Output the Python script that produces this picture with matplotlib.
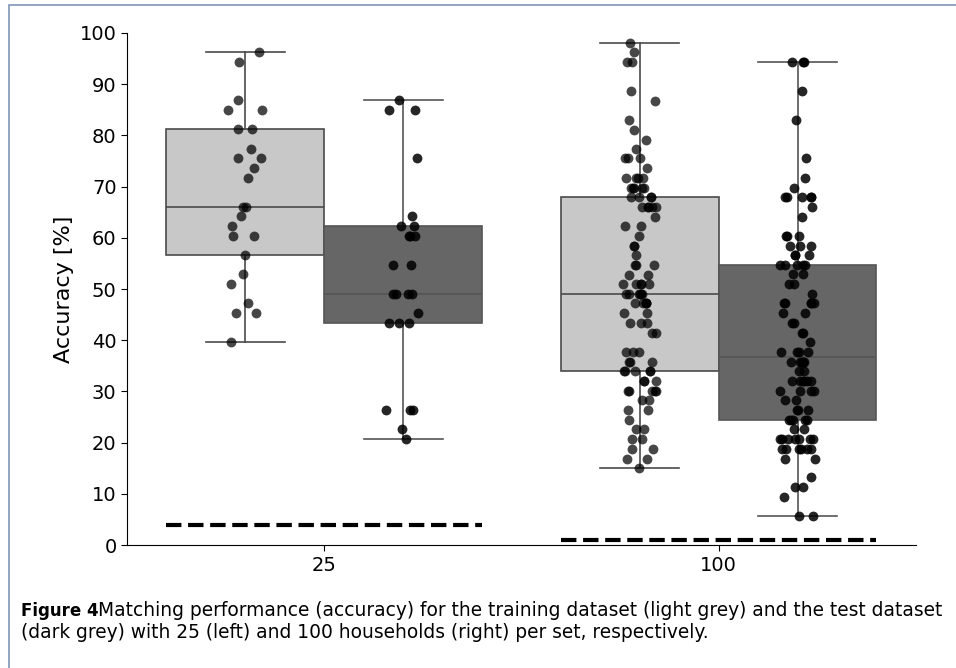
import numpy as np
import matplotlib
matplotlib.use("Agg")
import matplotlib.pyplot as plt
from matplotlib.patches import Rectangle

# group labels (households per set)
groups = ['25', '100']

# accuracies [%]
train_25 = [39.6, 45.3, 45.3, 47.2, 51.0, 52.9, 56.6, 60.4, 60.4, 62.3, 64.2, 66.1, 66.1,
            71.7, 73.7, 75.5, 75.5, 77.4, 81.2, 81.2, 85.0, 85.0, 86.9, 94.4, 96.2]
test_25 = [20.8, 22.7, 26.4, 26.4, 26.4, 43.4, 43.4, 43.4, 45.3, 49.0, 49.0, 49.0, 49.0,
           54.7, 54.7, 60.4, 60.4, 60.4, 62.3, 62.3, 64.2, 75.5, 85.0, 85.0, 86.9]

# 100 households: accuracy levels and how many households sit on each level
train_100_levels = [15.1, 16.9, 18.8, 20.7, 22.6, 24.5, 26.4, 28.3, 30.1, 32.0, 33.9, 35.8, 37.7,
                    41.5, 43.4, 45.3, 47.2, 49.0, 50.9, 52.8, 54.7, 56.6, 58.5, 60.4, 62.3, 64.1,
                    66.0, 67.9, 69.8, 71.7, 73.6, 75.5, 77.4, 79.2, 81.1, 83.0, 86.8, 88.7, 94.3,
                    96.2, 98.1]
train_100_counts = [1, 2, 2, 2, 2, 1, 2, 2, 5, 3, 5, 3, 3,
                    2, 3, 2, 5, 6, 5, 2, 3, 1, 2, 1, 2, 1,
                    5, 4, 5, 4, 1, 3, 1, 1, 1, 1, 1, 1, 2,
                    1, 1]
test_100_levels = [5.7, 9.4, 11.3, 13.2, 16.9, 18.8, 20.7, 22.6, 24.5, 26.4, 28.3, 30.1, 32.0,
                   33.9, 35.8, 37.7, 39.6, 41.5, 43.4, 45.3, 47.2, 49.1, 51.0, 52.9, 54.7, 56.6,
                   58.5, 60.4, 64.1, 66.0, 67.9, 69.8, 71.7, 75.5, 83.0, 88.7, 94.3]
test_100_counts = [2, 1, 2, 1, 2, 6, 7, 2, 5, 3, 2, 4, 6,
                   2, 5, 4, 1, 2, 2, 2, 5, 1, 2, 2, 5, 3,
                   3, 3, 1, 1, 5, 1, 1, 1, 1, 1, 3]

# chance level per group
chance = [4, 1]

train_100 = np.repeat(train_100_levels, train_100_counts)
test_100 = np.repeat(test_100_levels, test_100_counts)

train = [train_25, train_100]
test = [test_25, test_100]

fig = plt.figure(figsize=(9.56, 6.68), dpi=100)
ax = fig.add_axes([0.1328, 0.184, 0.8252, 0.7666])

pos = np.arange(len(groups))
w = 0.4

def draw_boxes(data, offset, face, line):
    bp = ax.boxplot(data, positions=pos + offset, widths=w, patch_artist=True,
                    showfliers=False, whis=1.5,
                    boxprops=dict(facecolor=face, edgecolor=line, linewidth=1.2),
                    medianprops=dict(color=line, linewidth=1.2),
                    whiskerprops=dict(color=line, linewidth=1.2),
                    capprops=dict(color=line, linewidth=1.2))
    return bp

draw_boxes(train, -w / 2, '#c8c8c8', '#4a4a4a')
draw_boxes(test, w / 2, '#666666', '#555555')

# jittered points, like a strip plot
rng = np.random.default_rng(3)
for i in range(len(groups)):
    for data, off, a in [(train[i], -w / 2, 0.72), (test[i], w / 2, 0.85)]:
        xs = pos[i] + off + rng.uniform(-0.045, 0.045, len(data))
        ax.scatter(xs, data, s=50, color='black', alpha=a, linewidths=0, zorder=3)

# dashed chance lines
for i in range(len(groups)):
    ax.plot([pos[i] - 0.4, pos[i] + 0.4], [chance[i], chance[i]], color='black',
            lw=3, ls='--', zorder=2)

ax.set_xlim(-0.5, 1.5)
ax.set_ylim(0, 100)
ax.set_xticks(pos)
ax.set_xticklabels(groups)
ax.set_yticks(np.arange(0, 101, 10))
ax.tick_params(labelsize=14, length=4, width=0.8)
ax.set_ylabel('Accuracy [%]', fontsize=16, labelpad=4)
ax.spines['top'].set_visible(False)
ax.spines['right'].set_visible(False)

# frame and caption
fig.patches.append(Rectangle((9 / 956, -0.1), 1.2, 1.1 - 5 / 668, transform=fig.transFigure,
                             fill=False, edgecolor='#8096b8', lw=1.2))
fig.text(21 / 956, 1 - 611 / 668, 'Figure 4', fontsize=12, fontweight='bold', va='center')
fig.text(98 / 956, 1 - 611 / 668,
         'Matching performance (accuracy) for the training dataset (light grey) and the test dataset',
         fontsize=13.4, va='center')
fig.text(21 / 956, 1 - 632 / 668,
         '(dark grey) with 25 (left) and 100 households (right) per set, respectively.',
         fontsize=13.4, va='center')

fig.savefig('out.png', dpi=100)
